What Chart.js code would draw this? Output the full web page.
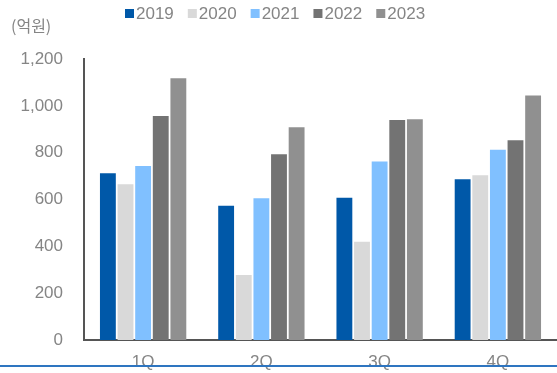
<!DOCTYPE html>
<html>
<head>
<meta charset="utf-8">
<script src="https://cdn.jsdelivr.net/npm/chart.js@4"></script>
<style>
    html, body { margin: 0; padding: 0; background: #fff; }
    #wrap { width: 557px; height: 373px; position: relative; }
</style>
</head>
<body>
<div id="wrap"><canvas id="quarterChart"></canvas></div>
<script>
// Categories and tick labels
const QUARTERS = ['1Q', '2Q', '3Q', '4Q'];
const YEARS = ['2019', '2020', '2021', '2022', '2023'];
const Y_TICKS = [0, 200, 400, 600, 800, 1000, 1200];

// Series values (억원)
const SALES_2019 = [712, 573, 608, 687];
const SALES_2020 = [665, 278, 420, 704];
const SALES_2021 = [743, 605, 762, 812];
const SALES_2022 = [957, 793, 940, 853];
const SALES_2023 = [1118, 909, 943, 1044];

// Bar colors
const COLORS = ['#0058a8', '#d9d9d9', '#80c0ff', '#737373', '#909090'];

const FONT = '"Liberation Sans", Arial, sans-serif';
const TEXT_COLOR = '#858585';

// Legend, unit label and bottom rule drawn by hand
const extrasPlugin = {
    id: 'extras',
    afterDraw(chart) {
        const ctx = chart.ctx;
        ctx.save();

        // unit label
        ctx.fillStyle = TEXT_COLOR;
        ctx.font = '16px "Noto Sans CJK KR", sans-serif';
        ctx.textBaseline = 'middle';
        ctx.textAlign = 'left';
        ctx.fillText('(억원)', 11, 26);

        // legend
        ctx.font = '17px ' + FONT;
        let x = 125;
        chart.data.datasets.forEach(ds => {
            ctx.fillStyle = ds.backgroundColor;
            ctx.fillRect(x, 9, 9, 9);
            ctx.fillStyle = TEXT_COLOR;
            ctx.fillText(ds.label, x + 11, 14);
            x += 11 + ctx.measureText(ds.label).width + 14;
        });

        // bottom blue rule
        ctx.strokeStyle = '#2e75c0';
        ctx.lineWidth = 2;
        ctx.beginPath();
        ctx.moveTo(0, 366);
        ctx.lineTo(557, 366);
        ctx.stroke();

        ctx.restore();
    }
};

const seriesList = [SALES_2019, SALES_2020, SALES_2021, SALES_2022, SALES_2023];

new Chart(document.getElementById('quarterChart'), {
    type: 'bar',
    data: {
        labels: QUARTERS,
        datasets: YEARS.map((year, i) => ({
            label: year,
            data: seriesList[i],
            backgroundColor: COLORS[i],
            borderWidth: 0,
            barPercentage: 0.9,
            categoryPercentage: 0.745
        }))
    },
    options: {
        responsive: true,
        maintainAspectRatio: false,
        animation: false,
        layout: {
            padding: { top: 59, left: 0, right: 0, bottom: 0 }
        },
        plugins: {
            legend: { display: false },
            tooltip: { enabled: false }
        },
        scales: {
            x: {
                grid: { display: false, drawTicks: false },
                border: { display: true, color: '#555', width: 2 },
                ticks: {
                    padding: 12,
                    color: TEXT_COLOR,
                    font: { family: FONT, size: 17 }
                },
                afterFit(scale) { scale.height = 33; }
            },
            y: {
                min: 0,
                max: 1200,
                grid: { display: false, drawTicks: false },
                border: { display: true, color: '#555', width: 2 },
                afterBuildTicks(scale) {
                    scale.ticks = Y_TICKS.map(v => ({ value: v }));
                },
                ticks: {
                    padding: 21,
                    color: TEXT_COLOR,
                    font: { family: FONT, size: 17 },
                    callback: v => v.toLocaleString('en-US')
                },
                afterFit(scale) { scale.width = 84; }
            }
        }
    },
    plugins: [extrasPlugin]
});
</script>
</body>
</html>
